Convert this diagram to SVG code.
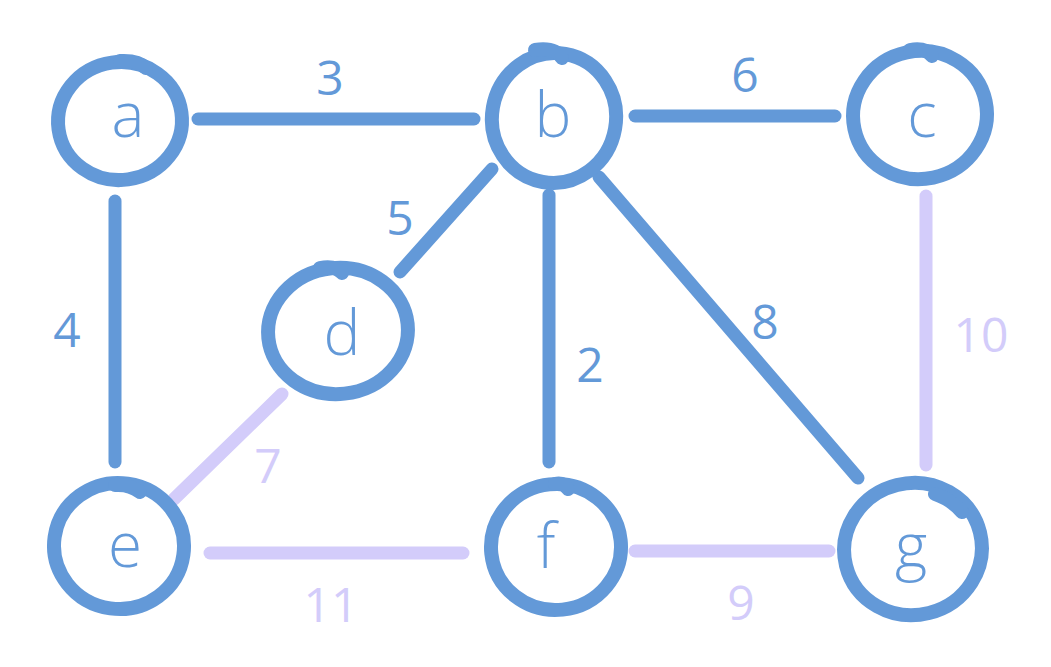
<svg xmlns="http://www.w3.org/2000/svg" width="1051" height="667" viewBox="0 0 1051 667">
<style>
.ring{fill:none;stroke:#6399d8;stroke-width:14;stroke-linecap:round;stroke-linejoin:round}
.tick{fill:none;stroke:#6399d8;stroke-width:14;stroke-linecap:round}
.e{stroke-width:13;stroke-linecap:round;fill:none}
.blue{stroke:#6399d8}
.lav{stroke:#d3ccfa}
.lbl{font-family:"Open Sans","DejaVu Sans",sans-serif;font-size:62px;font-weight:300;fill:#6399d8;text-anchor:middle}
.num{font-family:"Open Sans","DejaVu Sans",sans-serif;font-size:48px;text-anchor:middle}
.nb{fill:#6399d8}
.nl{fill:#d3ccfa}
</style>
<rect width="1051" height="667" fill="#ffffff"/>
<g id="edges">
<line class="e blue" x1="198" y1="119" x2="474" y2="119"/>
<line class="e blue" x1="635" y1="116" x2="835" y2="116"/>
<line class="e blue" x1="115" y1="201" x2="115" y2="462"/>
<line class="e blue" x1="492" y1="169" x2="400" y2="272"/>
<line class="e blue" x1="549" y1="195" x2="549" y2="462"/>
<line class="e blue" x1="599" y1="177" x2="858" y2="478"/>
<line class="e lav" x1="926" y1="196" x2="926" y2="465"/>
<line class="e lav" x1="282" y1="394" x2="174" y2="499"/>
<line class="e lav" x1="210" y1="553" x2="463" y2="553"/>
<line class="e lav" x1="635" y1="551" x2="829" y2="551"/>
<text class="num nb" x="330" y="95">3</text>
<text class="num nb" x="745" y="92">6</text>
<text class="num nb" x="67" y="347">4</text>
<text class="num nb" x="400" y="235">5</text>
<text class="num nb" x="590" y="382">2</text>
<text class="num nb" x="765" y="339">8</text>
<text class="num nl" x="981" y="352">10</text>
<text class="num nl" x="268" y="483">7</text>
<text class="num nl" x="331" y="622">11</text>
<text class="num nl" x="741" y="620">9</text>
</g>
<g id="node-a">
<ellipse class="ring" cx="120" cy="121" rx="62" ry="59" transform="rotate(-8 120 121)"/>
<path class="tick" d="M120 61 Q138 60 146 68"/>
<text class="lbl" x="128" y="137">a</text>
</g>
<g id="node-b">
<ellipse class="ring" cx="554" cy="118" rx="62" ry="65" transform="rotate(10 554 118)"/>
<path class="tick" d="M535 50 Q555 47 562 58"/>
<text class="lbl" x="553" y="137">b</text>
</g>
<g id="node-c">
<ellipse class="ring" cx="920" cy="115" rx="67" ry="64" transform="rotate(-12 920 115)"/>
<path class="tick" d="M910 50 Q925 47 932 56"/>
<text class="lbl" x="922" y="137">c</text>
</g>
<g id="node-d">
<ellipse class="ring" cx="338" cy="331" rx="70" ry="63" transform="rotate(-6 338 331)"/>
<path class="tick" d="M320 268 Q335 265 342 273"/>
<text class="lbl" x="342" y="355">d</text>
</g>
<g id="node-e">
<ellipse class="ring" cx="119" cy="546" rx="65" ry="63" transform="rotate(8 119 546)"/>
<path class="tick" d="M115 485 Q130 484 140 492"/>
<text class="lbl" x="125" y="567">e</text>
</g>
<g id="node-f">
<ellipse class="ring" cx="556" cy="547" rx="65" ry="63" transform="rotate(-6 556 547)"/>
<path class="tick" d="M555 484 Q563 482 568 489"/>
<text class="lbl" x="546" y="568">f</text>
</g>
<g id="node-g">
<ellipse class="ring" cx="913" cy="549" rx="69" ry="66" transform="rotate(-14 913 549)"/>
<path class="tick" d="M935 494 Q952 500 962 512"/>
<text class="lbl" x="911" y="568">g</text>
</g>
</svg>
